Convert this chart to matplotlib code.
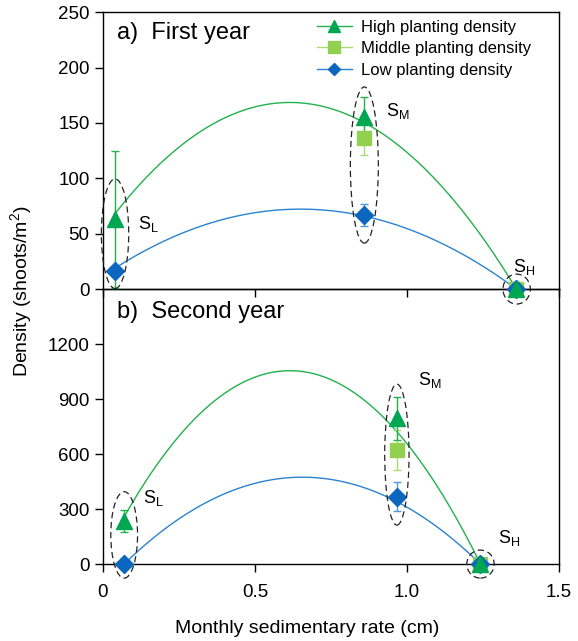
import numpy as np
import matplotlib
matplotlib.use("Agg")
import matplotlib.pyplot as plt
from matplotlib.patches import Ellipse
from matplotlib.lines import Line2D

plt.rcParams['font.family'] = ['Liberation Sans', 'DejaVu Sans']
plt.rcParams['mathtext.fontset'] = 'custom'
plt.rcParams['mathtext.rm'] = 'Liberation Sans'

# Sites: low, middle and high sedimentation
site_names = ['L', 'M', 'H']

# First year: sedimentary rate of each site and shoot densities (mean, error)
x_year1 = [0.04, 0.86, 1.36]
high_year1 = [63, 155, 0]
high_err_year1 = [62, 18, 0]
mid_year1 = [np.nan, 136, 0]
mid_err_year1 = [np.nan, 15, 0]
low_year1 = [16, 67, 0]
low_err_year1 = [0, 10, 0]

# Second year
x_year2 = [0.07, 0.968, 1.242]
high_year2 = [235, 796, 0]
high_err_year2 = [60, 118, 0]
mid_year2 = [np.nan, 623, 0]
mid_err_year2 = [np.nan, 110, 0]
low_year2 = [0, 368, 0]
low_err_year2 = [0, 80, 0]

# Fitted quadratic curves: vertex (x, y), curve runs from site L to site H (y = 0)
high_fit_year1 = (0.615, 168.5)
low_fit_year1 = (0.65, 72.2)
high_fit_year2 = (0.615, 1055)
low_fit_year2 = (0.656, 474)

c_high = '#00A651'
c_high_line = '#22B14C'
c_mid = '#92D050'
c_mid_err = '#A9DC74'
c_low = '#0A67BD'
c_low_line = '#2B83D0'
c_low_err = '#4A9BDD'


def quad_curve(vertex, x0, x1):
    h, k = vertex
    a = -k / (x1 - h) ** 2
    xs = np.linspace(x0, x1, 200)
    return xs, a * (xs - h) ** 2 + k


def draw_panel(ax, x, high, high_err, mid, mid_err, low, low_err, fit_high, fit_low):
    x = np.array(x)
    xs, ys = quad_curve(fit_high, x[0], x[2])
    ax.plot(xs, ys, color=c_high_line, lw=1.0, zorder=2)
    xs, ys = quad_curve(fit_low, x[0], x[2])
    ax.plot(xs, ys, color=c_low_line, lw=1.0, zorder=2)

    for y, e, col, ecol, mk, ms in [
            (mid, mid_err, c_mid, c_mid_err, 's', 10.5),
            (low, low_err, c_low, c_low_err, 'D', 9),
            (high, high_err, c_high, c_high_line, '^', 12)]:
        y = np.array(y, dtype=float)
        e = np.array(e, dtype=float)
        m = e > 0
        ax.errorbar(x[m], y[m], yerr=e[m], fmt='none', ecolor=ecol,
                    elinewidth=1.0, capsize=3.2, capthick=1.0, zorder=3, clip_on=False)
        ax.plot(x, y, ls='none', marker=mk, ms=ms, color=col, mec=col,
                zorder=4, clip_on=False)


fig = plt.figure(figsize=(5.78, 6.41), dpi=100)
ax1 = fig.add_axes([0.178, 0.549, 0.789, 0.432])
ax2 = fig.add_axes([0.178, 0.120, 0.789, 0.429])
ax1.set_zorder(3)
ax1.patch.set_alpha(0)

draw_panel(ax1, x_year1, high_year1, high_err_year1, mid_year1, mid_err_year1,
           low_year1, low_err_year1, high_fit_year1, low_fit_year1)
draw_panel(ax2, x_year2, high_year2, high_err_year2, mid_year2, mid_err_year2,
           low_year2, low_err_year2, high_fit_year2, low_fit_year2)

for ax in (ax1, ax2):
    ax.set_xlim(0, 1.5)
    ax.set_xticks([0, 0.5, 1.0, 1.5])
    ax.tick_params(direction='out', length=6, width=1, labelsize=13.5, right=False, top=False)
    for s in ax.spines.values():
        s.set_linewidth(1.0)

ax1.set_ylim(0, 250)
ax1.set_yticks([0, 50, 100, 150, 200, 250])
ax1.tick_params(axis='x', labelbottom=False)
ax2.set_ylim(0, 1500)
ax2.set_yticks([0, 300, 600, 900, 1200])
ax2.set_xticklabels(['0', '0.5', '1.0', '1.5'])
ax2.tick_params(axis='x', pad=8)

ax1.text(0.03, 0.925, 'a)  First year', transform=ax1.transAxes, fontsize=17, va='center')
ax2.text(0.03, 0.915, 'b)  Second year', transform=ax2.transAxes, fontsize=17, va='center')

# dashed ellipses around each site group
ell_style = dict(fill=False, ec='#222222', lw=0.9, ls=(0, (5, 3)), zorder=5, clip_on=False)
for (cx, cy, w, h) in [(0.04, 50, 0.09, 99), (0.86, 112, 0.092, 141), (1.361, 0, 0.09, 27)]:
    ax1.add_patch(Ellipse((cx, cy), w, h, **ell_style))
for (cx, cy, w, h) in [(0.07, 159, 0.088, 472), (0.967, 597, 0.08, 769), (1.242, 0, 0.09, 153)]:
    ax2.add_patch(Ellipse((cx, cy), w, h, **ell_style))

lab = r'S$_\mathregular{%s}$'
ax1.text(0.115, 59, lab % site_names[0], fontsize=13, va='center')
ax1.text(0.93, 161, lab % site_names[1], fontsize=13, va='center')
ax1.text(1.35, 20, lab % site_names[2], fontsize=13, va='center')
ax2.text(0.133, 360, lab % site_names[0], fontsize=13, va='center')
ax2.text(1.036, 1005, lab % site_names[1], fontsize=13, va='center')
ax2.text(1.30, 142, lab % site_names[2], fontsize=13, va='center')

handles = [
    Line2D([], [], color=c_high_line, marker='^', ms=9, mfc=c_high, mec=c_high, lw=1),
    Line2D([], [], color=c_mid_err, marker='s', ms=8, mfc=c_mid, mec=c_mid, lw=1),
    Line2D([], [], color=c_low_line, marker='D', ms=6.5, mfc=c_low, mec=c_low, lw=1),
]
ax1.legend(handles, ['High planting density', 'Middle planting density', 'Low planting density'],
           loc='upper left', bbox_to_anchor=(0.44, 1.02), frameon=False, fontsize=12,
           handlelength=2.1, handletextpad=0.55, labelspacing=0.38, borderpad=0.3)

fig.text(0.038, 0.546, 'Density (shoots/m$^2$)', rotation=90, fontsize=14,
         ha='center', va='center')
fig.text(0.531, 0.020, 'Monthly sedimentary rate (cm)', fontsize=14, ha='center', va='center')

fig.savefig('out.png', dpi=100)
